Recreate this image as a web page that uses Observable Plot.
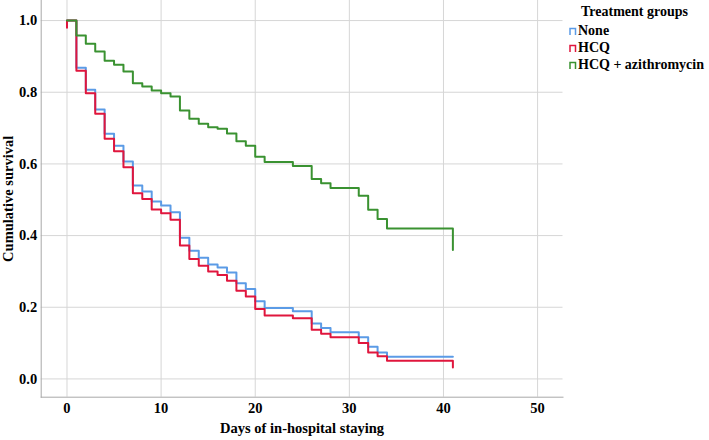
<!DOCTYPE html>
<html><head><meta charset="utf-8">
<script src="https://cdn.jsdelivr.net/npm/d3@7"></script>
<script src="https://cdn.jsdelivr.net/npm/@observablehq/plot@0.6"></script>
<style>
body{margin:0;background:#fff;}
#wrap{position:relative;width:709px;height:440px;font-family:"Liberation Serif","Times New Roman",serif;font-weight:bold;color:#000;}
#wrap svg text{font-family:"Liberation Serif","Times New Roman",serif;font-weight:bold;}
#legend{position:absolute;left:569px;top:3px;font-size:14px;line-height:17px;}
#legend .title{padding-left:12px;margin-bottom:2px;}
#legend .item{display:flex;align-items:center;white-space:nowrap;}
#legend svg{margin-right:1px;}
</style></head><body><div id="wrap"><div id="legend"></div></div>
<script>
const groups = ["None", "HCQ", "HCQ + azithromycin"];
const colors = ["#5B9BE6", "#E0163D", "#3A9231"];

const noneDays = [0,1,2,3,4,5,6,7,8,9,10,11,12,13,14,15,16,17,18,19,20,21,24,26,27,28,31,32,33,34,41];
const noneSurv = [1.0,0.868,0.807,0.752,0.684,0.651,0.607,0.540,0.523,0.495,0.484,0.465,0.394,0.358,0.338,0.319,0.311,0.297,0.267,0.251,0.217,0.198,0.189,0.155,0.142,0.130,0.116,0.090,0.074,0.062,0.062];

const hcqDays = [0,0,1,2,3,4,5,6,7,8,9,10,11,12,13,14,15,16,17,18,19,20,21,24,26,27,28,31,32,33,34,41,41];
const hcqSurv = [0.98,1.0,0.860,0.797,0.740,0.670,0.635,0.591,0.518,0.502,0.473,0.462,0.444,0.372,0.335,0.316,0.300,0.290,0.274,0.246,0.230,0.195,0.177,0.169,0.137,0.126,0.116,0.100,0.074,0.063,0.051,0.051,0.032];

const aziDays = [0,1,2,3,4,5,6,7,8,9,10,11,12,13,14,15,16,17,18,19,20,21,24,26,27,28,31,32,33,34,41,41];
const aziSurv = [1.0,0.958,0.935,0.914,0.888,0.877,0.858,0.825,0.816,0.805,0.797,0.788,0.749,0.726,0.712,0.702,0.698,0.685,0.663,0.651,0.620,0.605,0.594,0.558,0.546,0.533,0.511,0.472,0.446,0.420,0.420,0.360];

const xTicks = [0, 10, 20, 30, 40, 50];
const yTicks = [0.0, 0.2, 0.4, 0.6, 0.8, 1.0];

const series = [[noneDays, noneSurv], [hcqDays, hcqSurv], [aziDays, aziSurv]];
const rows = series.flatMap(([d, s], i) => d.map((day, j) => ({group: groups[i], day, surv: s[j]})));

const chart = Plot.plot({
  width: 709, height: 440,
  marginLeft: 40.7, marginRight: 146.5, marginTop: 0, marginBottom: 43.3,
  style: {fontFamily: "'Liberation Serif','Times New Roman',serif", fontWeight: "bold", fontSize: "14.5px", color: "#000", background: "#fff"},
  x: {domain: [-2.74, 52.7]},
  y: {domain: [-0.051, 1.056]},
  color: {domain: groups, range: colors},
  marks: [
    Plot.gridX(xTicks, {stroke: "#d6d6d6", strokeOpacity: 1}),
    Plot.gridY(yTicks, {stroke: "#d6d6d6", strokeOpacity: 1}),
    Plot.frame({anchor: "left", stroke: "#a8a8a8"}),
    Plot.frame({anchor: "bottom", stroke: "#a8a8a8"}),
    Plot.axisX(xTicks, {tickSize: 0, tickPadding: 6, fontSize: 14.5, tickFormat: d => String(d), label: "Days of in-hospital staying", labelArrow: "none", labelAnchor: "center", labelOffset: 36}),
    Plot.axisY(yTicks, {tickSize: 0, tickPadding: 4, fontSize: 14.5, tickFormat: d3.format(".1f"), label: "Cumulative survival", labelArrow: "none", labelAnchor: "center", labelOffset: 38}),
    Plot.line(rows, {x: "day", y: "surv", z: "group", stroke: "group", curve: "step-after", strokeWidth: 2})
  ]
});
document.getElementById("wrap").prepend(chart);

const legend = document.getElementById("legend");
legend.innerHTML = `<div class="title">Treatment groups</div>` + groups.map((g, i) =>
  `<div class="item"><svg width="8" height="8"><path d="M1,8V1.5H6.5V8" fill="none" stroke="${colors[i]}" stroke-width="1.5"/></svg>${g}</div>`).join("");
</script>
</body></html>
